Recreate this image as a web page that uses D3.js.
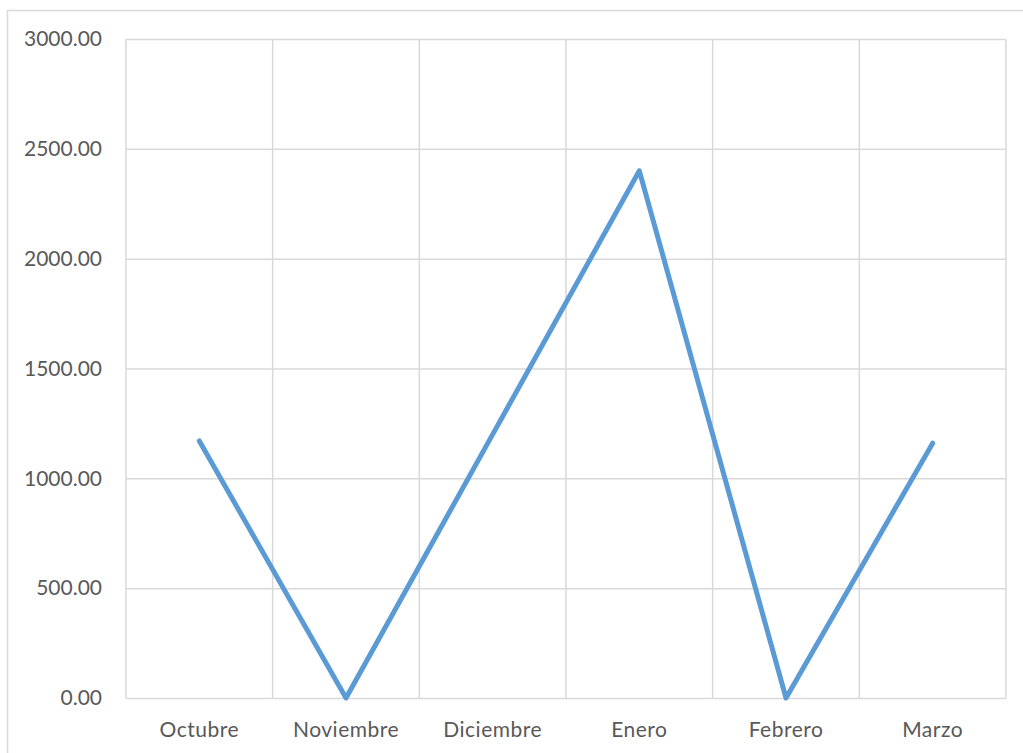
<!DOCTYPE html>
<html>
<head>
<meta charset="utf-8">
<script src="https://cdn.jsdelivr.net/npm/d3@7"></script>
<style>
  html, body { margin: 0; padding: 0; background: #fff; }
  svg { display: block; }
  text { font-family: Lato, "Open Sans", sans-serif; fill: #595959; }
</style>
</head>
<body>
<svg id="chart" width="1023" height="753"></svg>
<script>
// Monthly values
const categories = ["Octubre", "Noviembre", "Diciembre", "Enero", "Febrero", "Marzo"];
const values = [1170, 0, 1200, 2400, 0, 1160];
const yTicks = [0, 500, 1000, 1500, 2000, 2500, 3000];

const svg = d3.select("#chart");
const W = 1023, H = 753;
const plot = { left: 126, top: 39, right: 1006, bottom: 698 };

// Outer chart frame (extends past the right and bottom edges)
svg.append("rect")
  .attr("x", 7.5).attr("y", 10.5)
  .attr("width", W + 20).attr("height", H + 20)
  .attr("fill", "#fff")
  .attr("stroke", "#d9d9d9").attr("stroke-width", 1.5);

const x = d3.scaleBand().domain(categories).range([plot.left, plot.right]).padding(0);
const y = d3.scaleLinear().domain([0, 3000]).range([plot.bottom, plot.top]);

// Horizontal gridlines + y labels
const yAxis = d3.axisLeft(y).tickValues(yTicks).tickFormat(d3.format(".2f"))
  .tickSize(-(plot.right - plot.left)).tickPadding(24);
const gy = svg.append("g").attr("transform", `translate(${plot.left},0)`).call(yAxis);
gy.select(".domain").remove();
gy.selectAll(".tick line").attr("stroke", "#d9d9d9").attr("stroke-width", 1.5);
gy.selectAll(".tick text").attr("font-size", 21).style("fill", "#595959")
  .attr("font-family", "Lato, 'Open Sans', sans-serif");

// Vertical gridlines at category boundaries
const bounds = categories.map(c => x(c)).concat([x(categories[categories.length - 1]) + x.bandwidth()]);
svg.append("g").selectAll("line").data(bounds).join("line")
  .attr("x1", d => d).attr("x2", d => d)
  .attr("y1", plot.top).attr("y2", plot.bottom)
  .attr("stroke", "#d9d9d9").attr("stroke-width", 1.5);

// Category labels
const xAxis = d3.axisBottom(x).tickSize(0).tickPadding(24);
const gx = svg.append("g").attr("transform", `translate(0,${plot.bottom})`).call(xAxis);
gx.select(".domain").remove();
gx.selectAll(".tick text").attr("font-size", 21).style("fill", "#595959")
  .attr("letter-spacing", "0.5px")
  .attr("font-family", "Lato, 'Open Sans', sans-serif");

// Series line
const line = d3.line()
  .x((d, i) => x(categories[i]) + x.bandwidth() / 2)
  .y(d => y(d));
svg.append("path")
  .datum(values)
  .attr("d", line)
  .attr("fill", "none")
  .attr("stroke", "#5b9bd5")
  .attr("stroke-width", 5)
  .attr("stroke-linejoin", "round")
  .attr("stroke-linecap", "round");
</script>
</body>
</html>
